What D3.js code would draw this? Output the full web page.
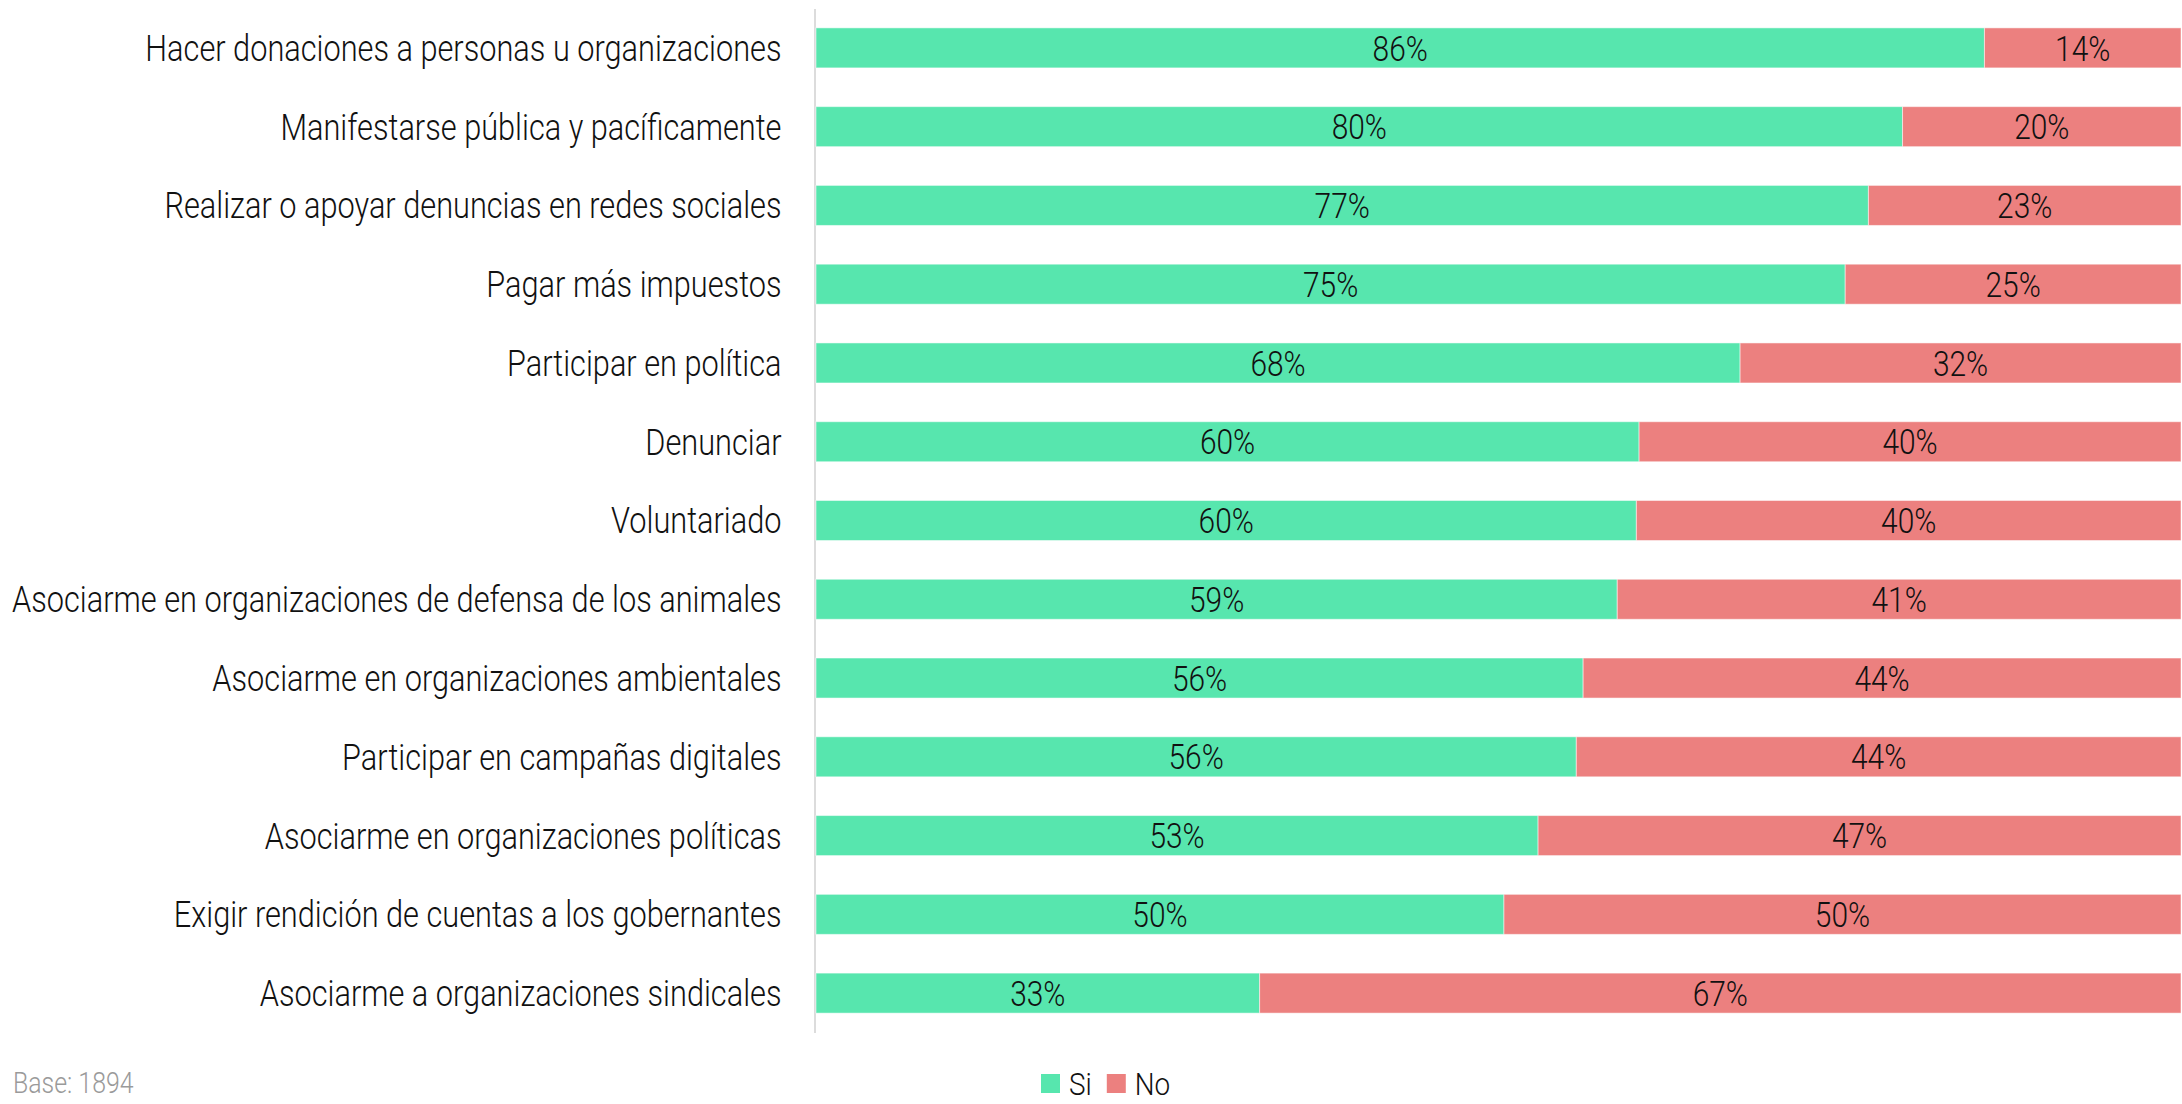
<!DOCTYPE html>
<html>
<head>
<meta charset="utf-8">
<script src="https://cdn.jsdelivr.net/npm/d3@7"></script>
<style>
  body { margin: 0; background: #fff; }
  text { font-family: Roboto, "Noto Sans", sans-serif; font-weight: 300; }
</style>
</head>
<body>
<svg id="chart" width="2182" height="1104"></svg>
<script>
"use strict";

// categories, top to bottom
const categories = [
  "Hacer donaciones a personas u organizaciones",
  "Manifestarse pública y pacíficamente",
  "Realizar o apoyar denuncias en redes sociales",
  "Pagar más impuestos",
  "Participar en política",
  "Denunciar",
  "Voluntariado",
  "Asociarme en organizaciones de defensa de los animales",
  "Asociarme en organizaciones ambientales",
  "Participar en campañas digitales",
  "Asociarme en organizaciones políticas",
  "Exigir rendición de cuentas a los gobernantes",
  "Asociarme a organizaciones sindicales"
];
// bar shares and the printed labels
const siValues = [85.6, 79.6, 77.1, 75.4, 67.7, 60.3, 60.1, 58.7, 56.2, 55.7, 52.9, 50.4, 32.5];
const noValues = [14.4, 20.4, 22.9, 24.6, 32.3, 39.7, 39.9, 41.3, 43.8, 44.3, 47.1, 49.6, 67.5];
const siLabels = [86, 80, 77, 75, 68, 60, 60, 59, 56, 56, 53, 50, 33];
const noLabels = [14, 20, 23, 25, 32, 40, 40, 41, 44, 44, 47, 50, 67];
const seriesNames = ["Si", "No"];
const seriesColors = ["#57e6ae", "#ec807f"];
const baseNote = "Base: 1894";

const svg = d3.select("#chart");
const SX = 0.83; // squeeze to look like a condensed face

var rows = categories.map(function(c, i) {
  return { cat: c, Si: siValues[i], No: noValues[i], SiL: siLabels[i], NoL: noLabels[i] };
});

var x = d3.scaleLinear().domain([0, 100]).range([816, 2181]);
var y = d3.scaleBand().domain(categories).range([8.5, 1032.5])
  .paddingInner(0.492).paddingOuter(0.246);
var color = d3.scaleOrdinal().domain(seriesNames).range(seriesColors);

var stacked = d3.stack().keys(seriesNames)(rows);

// y axis: light line + category labels
var yAxisG = svg.append("g")
  .attr("transform", "translate(814.5,0)")
  .call(d3.axisLeft(y).tickSize(0).tickPadding(0));
yAxisG.select(".domain").attr("stroke", "#dcdcdc").attr("stroke-width", 2);
yAxisG.selectAll(".tick text")
  .attr("x", 0)
  .attr("dy", "0.35em")
  .attr("transform", "translate(-33,0) scale(" + SX + ",1)")
  .style("font-family", "Roboto, sans-serif")
  .style("font-weight", 300)
  .style("font-size", "37px")
  .attr("fill", "#111");

// bars
var layers = svg.append("g").selectAll("g")
  .data(stacked)
  .join("g")
  .attr("fill", function(d) { return color(d.key); });

layers.selectAll("rect")
  .data(function(d) { return d; })
  .join("rect")
  .attr("x", function(d) { return x(d[0]); })
  .attr("y", function(d) { return y(d.data.cat); })
  .attr("width", function(d) { return x(d[1]) - x(d[0]); })
  .attr("height", y.bandwidth())
  .attr("stroke", "#fff")
  .attr("stroke-opacity", 0.5)
  .attr("stroke-width", 1);

// value labels, centred in each segment
layers.selectAll("text")
  .data(function(d) { return d.map(function(p) { p.key = d.key; return p; }); })
  .join("text")
  .attr("text-anchor", "middle")
  .attr("dy", "0.35em")
  .attr("transform", function(d) {
    var cx = (x(d[0]) + x(d[1])) / 2;
    var cy = y(d.data.cat) + y.bandwidth() / 2;
    return "translate(" + cx + "," + cy + ") scale(" + SX + ",1)";
  })
  .attr("fill", "#111")
  .style("font-size", "36px")
  .text(function(d) { return (d.key === "Si" ? d.data.SiL : d.data.NoL) + "%"; });

// legend
var legend = svg.append("g").attr("transform", "translate(1041,1074)");
var lx = 0;
seriesNames.forEach(function(name) {
  legend.append("rect")
    .attr("x", lx).attr("y", 0)
    .attr("width", 19).attr("height", 19)
    .attr("fill", color(name));
  var t = legend.append("text")
    .attr("transform", "translate(" + (lx + 28) + ",9.5) scale(" + (SX * 1.05) + ",1)")
    .attr("dy", "0.35em")
    .attr("fill", "#111")
    .style("font-size", "32px")
    .text(name);
  lx += 28 + t.node().getComputedTextLength() * SX * 1.05 + 15;
});

// base note
svg.append("text")
  .attr("transform", "translate(13,1093) scale(" + SX + ",1)")
  .attr("fill", "#9a9a9a")
  .style("font-size", "30px")
  .text(baseNote);
</script>
</body>
</html>
